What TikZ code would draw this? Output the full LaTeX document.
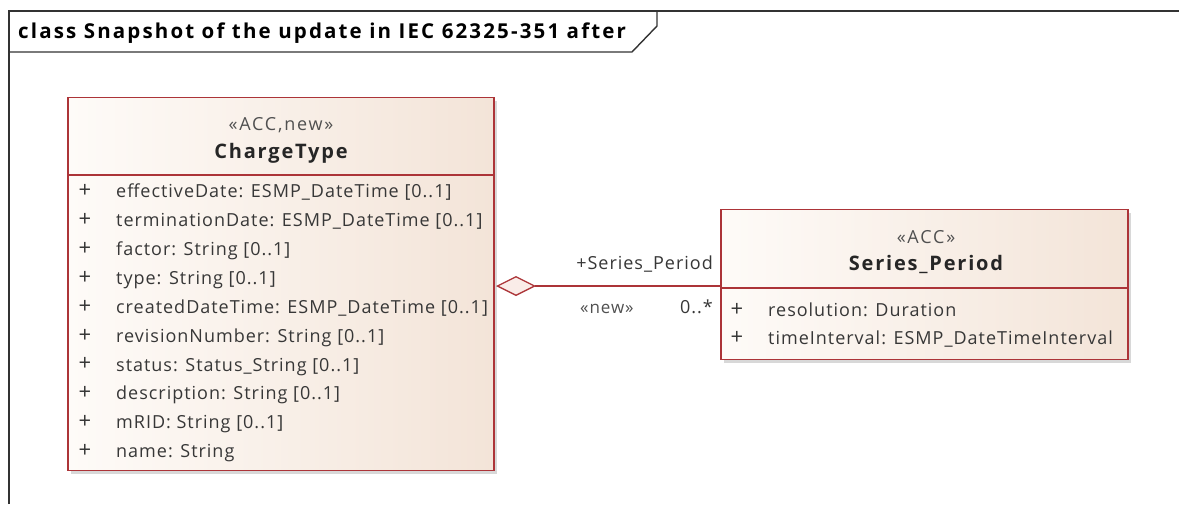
\documentclass[tikz,border=0pt]{standalone}
\usepackage{fontspec}
\setmainfont{Open Sans}[LetterSpace=5.5]
\usetikzlibrary{arrows.meta,shadows}
\definecolor{bord}{RGB}{172,52,56}
\definecolor{fillL}{RGB}{254,251,248}
\definecolor{fillR}{RGB}{243,228,216}
\definecolor{txt}{RGB}{55,55,55}
\definecolor{sttxt}{RGB}{80,80,80}
\definecolor{diafill}{RGB}{250,236,232}
\tikzset{
  frameline/.style={draw=black!80, line width=1.4pt},
  classbox/.style={draw=bord, line width=1.3pt, left color=fillL, right color=fillR,
    drop shadow={shadow xshift=3pt, shadow yshift=-3pt, fill=black!30, opacity=0.5},
    inner sep=0pt},
  sepline/.style={draw=bord, line width=1.3pt},
  attr/.style={font=\fontsize{18}{20}\selectfont, text=txt, inner sep=0pt},
  plus/.style={font=\fontsize{22}{24}\selectfont, text=txt, inner sep=0pt, anchor=center},
  stereo/.style={font=\fontsize{18}{20}\selectfont\addfontfeature{LetterSpace=10}, text=sttxt, inner sep=0pt},
  cname/.style={font=\fontsize{20}{22}\selectfont\bfseries\addfontfeature{LetterSpace=9}, text=black!85, inner sep=0pt},
  role/.style={font=\fontsize{18}{20}\selectfont, text=txt, inner sep=0pt},
  assoc/.style={draw=bord, line width=1.3pt},
}
\begin{document}
\begin{tikzpicture}[x=1pt,y=-1pt]
\useasboundingbox (0,0) rectangle (1179,504);
\fill[white] (0,0) rectangle (1179,504);
% diagram frame
\draw[frameline] (9,504) -- (9,11) -- (1179,11);
\draw[frameline] (9,52) -- (632,52) -- (657,26) -- (657,11);
\node[font=\fontsize{20.5}{22}\selectfont\bfseries\addfontfeature{LetterSpace=10.5}, anchor=mid west, inner sep=0pt] (title) at (18,36)
  {class Snapshot of the update in IEC 62325-351 after};

% ChargeType
\node[classbox, minimum width=426pt, minimum height=373pt] (ct) at (281,284) {};
\draw[sepline] (68,175) -- (494,175);
\node[stereo, anchor=mid] (ctst) at (281,128) {«ACC,new»};
\node[cname, anchor=mid] (ctnm) at (281,156) {ChargeType};
\foreach \i/\t in {0/{effectiveDate: ESMP\_DateTime [0..1]},
                   1/{terminationDate: ESMP\_DateTime [0..1]},
                   2/{factor: String [0..1]},
                   3/{type: String [0..1]},
                   4/{createdDateTime: ESMP\_DateTime [0..1]},
                   5/{revisionNumber: String [0..1]},
                   6/{status: Status\_String [0..1]},
                   7/{description: String [0..1]},
                   8/{mRID: String [0..1]},
                   9/{name: String}} {
  \node[plus] (cp\i) at (85,191+\i*28.9) {+};
  \node[attr, anchor=mid west] (ca\i) at (116,195+\i*28.9) {\t};
}

% Series_Period
\node[classbox, minimum width=407pt, minimum height=150pt] (sp) at (924.5,284.5) {};
\draw[sepline] (721,288) -- (1128,288);
\node[stereo, anchor=mid] (spst) at (926,241) {«ACC»};
\node[cname, anchor=mid] (spnm) at (926,268) {Series\_Period};
\node[plus] (sp0) at (737,310) {+};
\node[attr, anchor=mid west] (sa0) at (768,314) {resolution: Duration};
\node[plus] (sp1) at (737,338) {+};
\node[attr, anchor=mid west] (sa1) at (768,342) {timeInterval: ESMP\_DateTimeInterval};

% association
\coordinate (aggEnd) at (496,286);
\draw[assoc, {Diamond[length=40pt,width=20pt,fill=diafill]}-] (aggEnd) -- (sp.west |- aggEnd);
\node[role, anchor=mid east] (rolename) at (713,267) {+Series\_Period};
\node[stereo, anchor=mid west, font=\fontsize{17}{19}\selectfont] (newst) at (580,311) {«new»};
\node[role, anchor=mid east] (mult) at (713,311) {0..*};
\end{tikzpicture}
\end{document}
